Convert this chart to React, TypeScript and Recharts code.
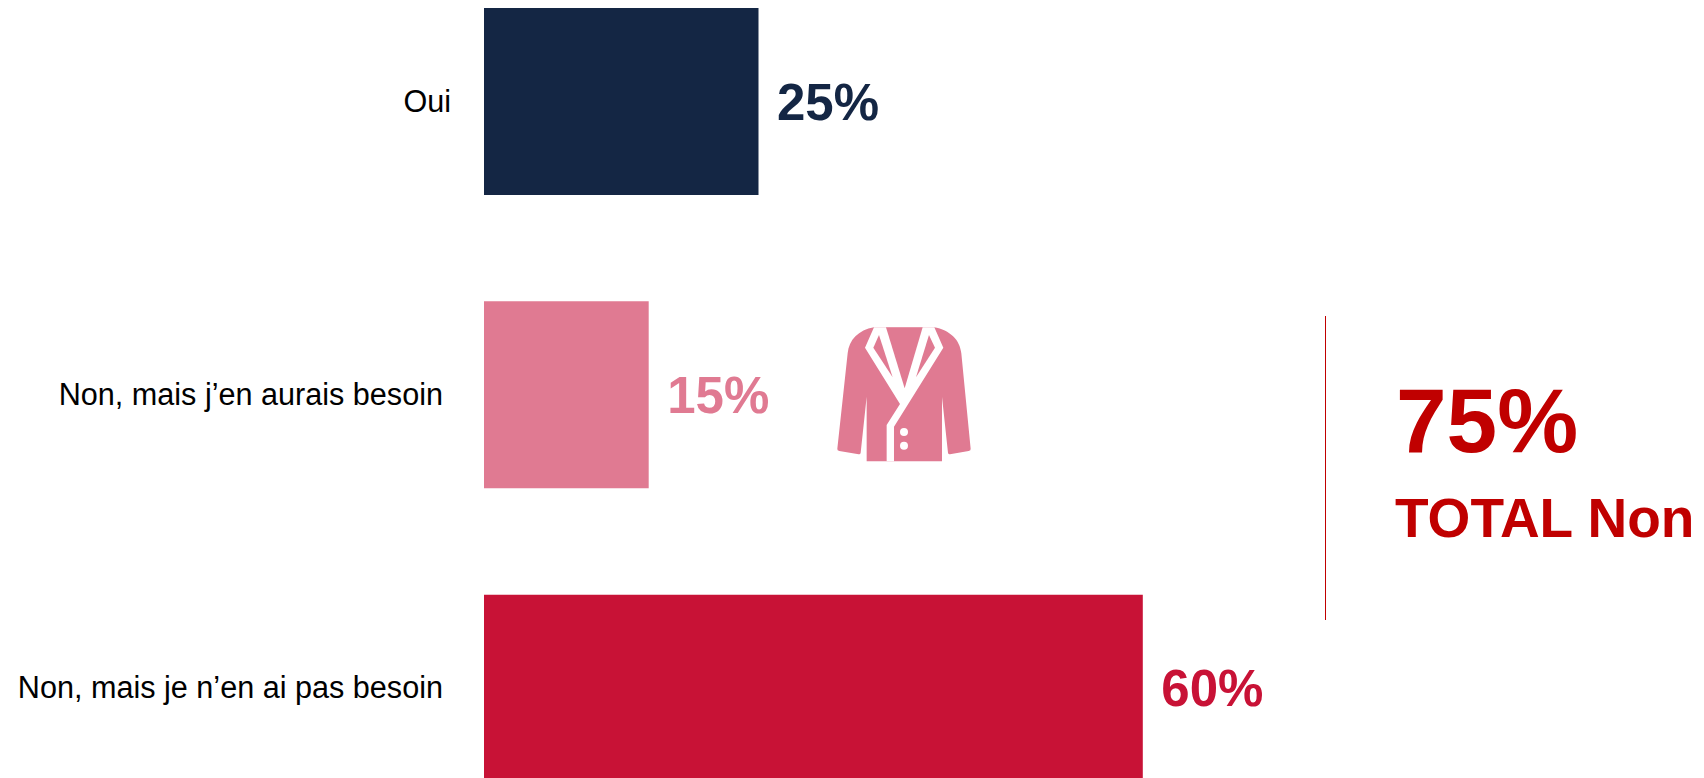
import React from "react";
import { BarChart, Bar, XAxis, YAxis, Cell, LabelList } from "recharts";

const categories = ["Oui", "Non, mais j’en aurais besoin", "Non, mais je n’en ai pas besoin"];
const shares = [25, 15, 60];
const barColors = ["#142644", "#E07A92", "#C81236"];
const totalNo = "75%";
const totalNoCaption = "TOTAL Non";

const rows = categories.map((category, i) => ({ category, share: shares[i] }));
const FONT = "'Liberation Sans', Arial, sans-serif";
const TOTAL_RED = "#C00000";
const JACKET_PINK = "#E07A92";

// Category names sit right-aligned against the bars; the short one hangs a little closer.
function CategoryTick({ x, y, payload }: any) {
  const dx = payload.value === "Oui" ? 8 : 0;
  return (
    <text x={x - 33 + dx} y={y + 10} textAnchor="end" fontFamily={FONT} fontSize={30.6} fill="#000">
      {payload.value}
    </text>
  );
}

function ShareLabel({ x, y, width, height, value, index }: any) {
  return (
    <text
      x={x + width + 18.5}
      y={y + height / 2 + 18}
      fontFamily={FONT}
      fontSize={51}
      fontWeight={700}
      fill={barColors[index]}
    >
      {value}%
    </text>
  );
}

// Blazer pictogram beside the "needs one" bar.
function Jacket() {
  return (
    <g transform="translate(800 300) scale(0.3333)">
      <path
        fill={JACKET_PINK}
        d="M222,82 L402,82 C450,90 480,120 484,160 L512,446 Q513,452 506,453 L450,463 Q445,464 444,458 L426,290 L426,484 L200,484 L200,290 L182,458 Q181,464 176,463 L118,453 Q111,452 112,446 L143,160 C147,120 175,90 222,82 Z"
      />
      <path fill="#fff" d="M222,82 L195,143 L300,312 L260,375 L260,484 L282,484 L282,380 L430,143 L403,82 Z" />
      <path fill={JACKET_PINK} d="M258,82 L368,82 L314,265 Z" />
      <path fill={JACKET_PINK} d="M237,105 L220,143 L278,232 Z" />
      <path fill={JACKET_PINK} d="M387,105 L405,143 L348,232 Z" />
      <circle cx={312} cy={396} r={12} fill="#fff" />
      <circle cx={312} cy={437} r={12} fill="#fff" />
    </g>
  );
}

export default function App() {
  return (
    <div style={{ position: "fixed", left: 0, top: 0, width: 1704, height: 778, overflow: "hidden", background: "#fff" }}>
      <div style={{ position: "absolute", left: 0, top: -45 }}>
        <BarChart
          width={1704}
          height={880}
          data={rows}
          layout="vertical"
          margin={{ top: 0, right: 122, bottom: 0, left: 0 }}
          barSize={187}
        >
          <XAxis type="number" domain={[0, 100]} hide />
          <YAxis
            type="category"
            dataKey="category"
            width={484}
            axisLine={false}
            tickLine={false}
            tick={<CategoryTick />}
            interval={0}
          />
          <Bar dataKey="share" isAnimationActive={false}>
            {rows.map((row, i) => (
              <Cell key={row.category} fill={barColors[i]} />
            ))}
            <LabelList dataKey="share" content={<ShareLabel />} />
          </Bar>
        </BarChart>
      </div>
      <svg width={1704} height={778} style={{ position: "absolute", left: 0, top: 0 }}>
        <Jacket />
        <line x1={1325.5} x2={1325.5} y1={316} y2={620} stroke={TOTAL_RED} strokeWidth={1} />
        <text x={1396} y={452} fontFamily={FONT} fontSize={91} fontWeight={700} fill={TOTAL_RED}>
          {totalNo}
        </text>
        <text x={1395} y={537} fontFamily={FONT} fontSize={55} fontWeight={700} fill={TOTAL_RED}>
          {totalNoCaption}
        </text>
      </svg>
    </div>
  );
}
